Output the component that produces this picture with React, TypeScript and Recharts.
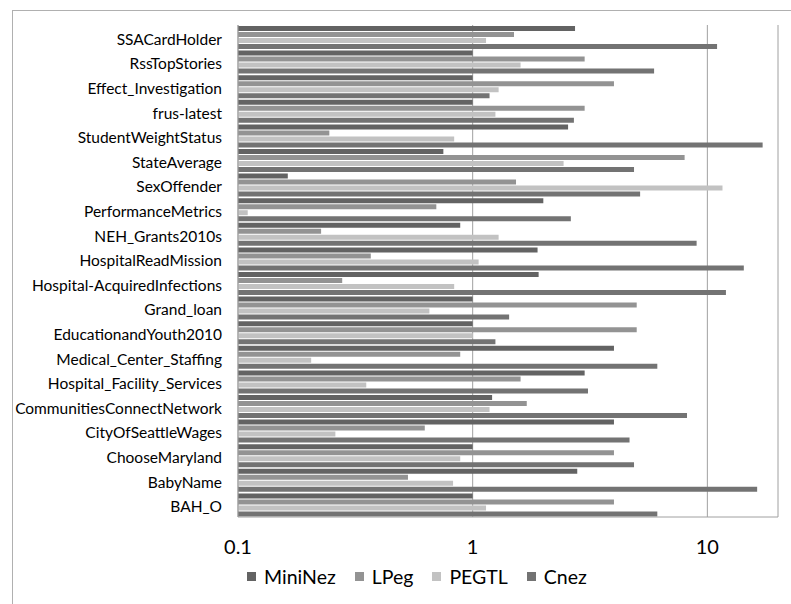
import React from 'react'
import { BarChart, Bar, XAxis, YAxis, CartesianGrid } from 'recharts'

// benchmark names, top to bottom
const categories = [
  'SSACardHolder', 'RssTopStories', 'Effect_Investigation', 'frus-latest',
  'StudentWeightStatus', 'StateAverage', 'SexOffender', 'PerformanceMetrics',
  'NEH_Grants2010s', 'HospitalReadMission', 'Hospital-AcquiredInfections',
  'Grand_loan', 'EducationandYouth2010', 'Medical_Center_Staffing',
  'Hospital_Facility_Services', 'CommunitiesConnectNetwork',
  'CityOfSeattleWages', 'ChooseMaryland', 'BabyName', 'BAH_O',
]

const miniNez = [2.73, 1.0, 1.0, 1.0, 2.55, 0.75, 0.163, 2.0, 0.885, 1.89, 1.91, 1.0, 1.0, 4.0, 3.0, 1.21, 4.0, 1.0, 2.79, 1.0]
const lpeg = [1.5, 3.0, 4.0, 3.0, 0.245, 8.0, 1.53, 0.7, 0.226, 0.368, 0.278, 5.0, 5.0, 0.885, 1.6, 1.7, 0.625, 4.0, 0.53, 4.0]
const pegtl = [1.14, 1.6, 1.29, 1.25, 0.834, 2.44, 11.6, 0.11, 1.29, 1.06, 0.834, 0.654, 1.0, 0.205, 0.352, 1.18, 0.26, 0.885, 0.825, 1.14]
const cnez = [11.0, 5.93, 1.18, 2.7, 17.2, 4.87, 5.17, 2.62, 9.0, 14.3, 12.0, 1.43, 1.25, 6.12, 3.1, 8.19, 4.66, 4.87, 16.3, 6.12]

const xTicks = [0.1, 1, 10]

const series = [
  { key: 'MiniNez', color: '#636363' },
  { key: 'LPeg', color: '#939393' },
  { key: 'PEGTL', color: '#c2c2c2' },
  { key: 'Cnez', color: '#737373' },
]

const chartData = categories.map((name, i) => ({
  name,
  MiniNez: miniNez[i],
  LPeg: lpeg[i],
  PEGTL: pegtl[i],
  Cnez: cnez[i],
}))

const font = 'Lato, "Open Sans", sans-serif'

export default function App() {
  return (
    <div style={{ position: 'fixed', left: 0, top: 0, width: 791, height: 604, overflow: 'hidden', background: '#fff', fontFamily: font }}>
      {/* outer chart frame, runs off the right and bottom edges */}
      <div style={{ position: 'absolute', left: 12, top: 10, width: 800, height: 620, border: '1px solid #b0b0b0' }} />

      <div style={{ position: 'absolute', left: 0, top: 0 }}>
        <BarChart
          width={791}
          height={604}
          data={chartData}
          layout="vertical"
          margin={{ top: 25, right: 13, bottom: 57, left: 0 }}
          barCategoryGap={1}
          barGap={1}
        >
          <CartesianGrid horizontal={false} stroke="#a0a0a0" />
          <XAxis
            type="number"
            scale="log"
            domain={[0.1, 20]}
            ticks={xTicks}
            allowDataOverflow
            axisLine={{ stroke: '#a0a0a0' }}
            tickLine={false}
            tickSize={0}
            tickMargin={23}
            height={30}
            tick={{ fill: '#000', fontSize: 20, fontFamily: font }}
          />
          <YAxis
            type="category"
            dataKey="name"
            width={238}
            interval={0}
            axisLine={{ stroke: '#a0a0a0' }}
            tickLine={false}
            tickSize={0}
            tickMargin={16}
            tick={{ fill: '#000', fontSize: 15.5, fontFamily: font, dy: 2 }}
          />
          {series.map(s => (
            <Bar key={s.key} dataKey={s.key} fill={s.color} isAnimationActive={false} />
          ))}
        </BarChart>
      </div>

      {/* legend */}
      <div style={{ position: 'absolute', left: 247, top: 565, display: 'flex', alignItems: 'center', fontSize: 19.5, color: '#000', whiteSpace: 'nowrap' }}>
        {series.map(s => (
          <div key={s.key} style={{ display: 'flex', alignItems: 'center', marginRight: 19 }}>
            <span style={{ display: 'inline-block', width: 9, height: 9, background: s.color, marginRight: 8 }} />
            <span>{s.key}</span>
          </div>
        ))}
      </div>
    </div>
  )
}
